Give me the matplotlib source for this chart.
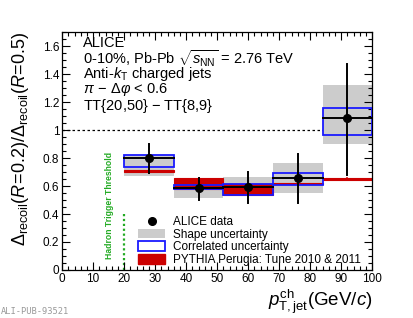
import matplotlib
matplotlib.use("Agg")
import matplotlib.pyplot as plt
from matplotlib.patches import Rectangle, Patch
from matplotlib.lines import Line2D
from matplotlib.ticker import MultipleLocator, FixedFormatter, FixedLocator

plt.rcParams['font.family'] = ['Liberation Sans', 'DejaVu Sans']
plt.rcParams['mathtext.fontset'] = 'custom'
plt.rcParams['mathtext.rm'] = 'Liberation Sans'
plt.rcParams['mathtext.it'] = 'Liberation Sans:italic'
plt.rcParams['mathtext.bf'] = 'Liberation Sans:bold'

# Data
bin_lo = [20, 36, 52, 68, 84]
bin_hi = [36, 52, 68, 84, 100]
centers = [28, 44, 60, 76, 92]
values = [0.80, 0.585, 0.59, 0.655, 1.085]
stat_lo = [0.69, 0.50, 0.48, 0.48, 0.68]
stat_hi = [0.90, 0.655, 0.70, 0.83, 1.47]
shape_lo = [0.675, 0.511, 0.535, 0.547, 0.90]
shape_hi = [0.825, 0.658, 0.666, 0.762, 1.32]
corr_lo = [0.735, 0.576, 0.535, 0.606, 0.963]
corr_hi = [0.82, 0.606, 0.618, 0.69, 1.158]
pyth_lo = [0.700, 0.576, 0.535, 0.612, 0.642]
pyth_hi = [0.712, 0.654, 0.618, 0.622, 0.658]
pyth_err_lo = [0.69, 0.60, 0.56, 0.61, 0.645]
pyth_err_hi = [0.725, 0.654, 0.60, 0.625, 0.66]

GRAY = '#cccccc'
BLUE = '#1a1aff'
RED = '#cc0000'
GREEN = '#22aa22'

fig = plt.figure(figsize=(4.14, 3.18), dpi=100)
ax = fig.add_axes([0.150, 0.151, 0.749, 0.748])
ax.set_xlim(0, 100)
ax.set_ylim(0, 1.7)

for i in range(len(centers)):
    w = bin_hi[i] - bin_lo[i]
    ax.add_patch(Rectangle((bin_lo[i], shape_lo[i]), w, shape_hi[i] - shape_lo[i],
                           facecolor=GRAY, edgecolor='none', zorder=1))
for i in range(len(centers)):
    w = bin_hi[i] - bin_lo[i]
    ax.add_patch(Rectangle((bin_lo[i], pyth_lo[i]), w, pyth_hi[i] - pyth_lo[i],
                           facecolor=RED, edgecolor=RED, lw=0.8, zorder=2))
    ax.plot([centers[i], centers[i]], [pyth_err_lo[i], pyth_err_hi[i]], color=RED, lw=1.2, zorder=2)
for i in range(len(centers)):
    w = bin_hi[i] - bin_lo[i]
    ax.add_patch(Rectangle((bin_lo[i], corr_lo[i]), w, corr_hi[i] - corr_lo[i],
                           facecolor='none', edgecolor=BLUE, lw=1.3, zorder=3))
for i in range(len(centers)):
    ax.plot([bin_lo[i], bin_hi[i]], [values[i], values[i]], color='black', lw=1.4, zorder=4)
    ax.plot([centers[i], centers[i]], [stat_lo[i], stat_hi[i]], color='black', lw=1.4, zorder=4)
ax.plot(centers, values, 'o', color='black', ms=5.5, zorder=5, ls='none')

ax.axhline(1.0, color='black', ls=(0, (2, 2)), lw=0.9, zorder=0.5)
ax.plot([20, 20], [0, 0.4], color=GREEN, ls=(0, (1, 1.2)), lw=1.6, zorder=1)
ax.text(15.3, 0.46, 'Hadron Trigger Threshold', rotation=90, color=GREEN,
        fontsize=6.2, fontweight='bold', ha='center', va='center')

ax.xaxis.set_major_locator(MultipleLocator(10))
ax.xaxis.set_minor_locator(MultipleLocator(2))
ax.yaxis.set_major_locator(FixedLocator([0, 0.2, 0.4, 0.6, 0.8, 1.0, 1.2, 1.4, 1.6]))
ax.yaxis.set_major_formatter(FixedFormatter(['0', '0.2', '0.4', '0.6', '0.8', '1', '1.2', '1.4', '1.6']))
ax.yaxis.set_minor_locator(MultipleLocator(0.05))
ax.tick_params(which='both', direction='in', top=True, right=True, labelsize=8.5, width=0.8)
ax.tick_params(which='major', length=6)
ax.tick_params(which='minor', length=3)
ax.tick_params(axis='x', pad=2)
ax.tick_params(axis='y', pad=2)
for s in ax.spines.values():
    s.set_linewidth(0.9)

ax.set_ylabel(r'$\Delta_{\mathrm{recoil}}(R\!=\!0.2)/\Delta_{\mathrm{recoil}}(R\!=\!0.5)$', fontsize=13)
ax.yaxis.set_label_coords(-0.10, 0.55)
ax.set_xlabel(r'$p_{\mathrm{T,jet}}^{\mathrm{ch}}(\mathrm{GeV}/c)$', fontsize=13.5)
ax.xaxis.set_label_coords(1.0, -0.075)
ax.xaxis.label.set_ha('right')

lines = ['ALICE',
         r'0-10%, Pb-Pb $\sqrt{s_{\mathrm{NN}}}$ = 2.76 TeV',
         r'Anti-$k_{\mathrm{T}}$ charged jets',
         r'$\pi\,-\,\Delta\varphi$ < 0.6',
         r'TT{20,50} $-$ TT{8,9}']
ys = [42.7, 59, 74, 90, 106]
for t, yp in zip(lines, ys):
    fig.text(83 / 414, 1 - yp / 318, t, fontsize=10.5, ha='left', va='center')

handles = [Line2D([], [], marker='o', color='black', ls='none', ms=5.5),
           Patch(facecolor=GRAY, edgecolor='none'),
           Patch(facecolor='white', edgecolor=BLUE, lw=1.3),
           Patch(facecolor=RED, edgecolor=RED)]
labels = ['ALICE data', 'Shape uncertainty', 'Correlated uncertainty', 'PYTHIA Perugia: Tune 2010 & 2011']
leg = ax.legend(handles, labels, loc='lower left', bbox_to_anchor=(0.219, -0.017), frameon=False,
                fontsize=8.5, handlelength=2.3, handleheight=0.9, labelspacing=0.05,
                handletextpad=0.6, borderpad=0.2)

fig.text(1 / 414, 1 - 312 / 318, 'ALI-PUB-93521', fontsize=6.3, color='#999999',
         family='DejaVu Sans Mono', ha='left', va='center')

fig.savefig('out.png', dpi=100)
